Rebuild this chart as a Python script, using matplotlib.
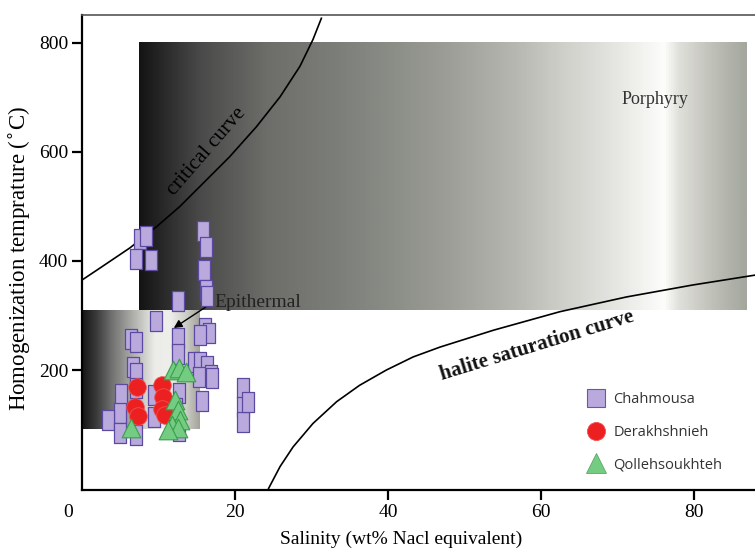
import numpy as np
import matplotlib
matplotlib.use("Agg")
import matplotlib.pyplot as plt
import matplotlib.colors as mcolors
from matplotlib.path import Path
from matplotlib.lines import Line2D

# fluid inclusion data: salinity (wt% NaCl eq.) and homogenization temperature (C)
chah_x = [7.6, 8.4, 7.1, 9.0, 15.8, 16.2, 16.0, 16.2, 16.4, 12.6, 9.7,
          6.4, 7.0, 6.7, 7.0, 7.0, 5.1, 5.0, 3.4, 5.0, 7.0, 9.4, 9.4,
          12.5, 12.5, 12.7, 12.3, 12.7,
          16.1, 16.6, 15.4, 14.6, 15.4, 16.3, 16.9, 15.3, 15.7, 17.0,
          21.0, 21.0, 21.0, 21.7]
chah_y = [440, 446, 404, 402, 455, 425, 383, 346, 336, 327, 290,
          257, 251, 205, 194, 167, 156, 121, 108, 84, 81, 154, 114,
          259, 229, 158, 130, 88,
          277, 268, 264, 215, 215, 207, 191, 187, 143, 185,
          167, 132, 105, 141]

derak_x = [7.2, 6.9, 7.3, 10.5, 10.6, 10.5, 10.8]
derak_y = [169, 133, 116, 172, 150, 128, 118]

qolleh_x = [11.9, 12.7, 13.6, 12.2, 12.5, 12.8, 11.8, 12.5, 11.2, 6.4]
qolleh_y = [200, 204, 196, 145, 127, 108, 99, 94, 90, 94]

# boundary curves
crit_x = [0, 2.35, 6.27, 9.76, 12.8, 16.3, 19.3, 22.8, 25.9, 28.5, 30.2, 31.3]
crit_y = [365, 387, 424, 463, 500, 549, 591, 646, 701, 757, 806, 845]
halite_x = [24.4, 25.9, 27.6, 30.2, 33.3, 36.3, 39.8, 43.3, 46.8, 53.8, 62.5,
            71.2, 79.9, 88.0]
halite_y = [-17, 23, 59, 102, 142, 172, 200, 224, 242, 273, 307, 334, 356, 374]

# deposit-type fields (xmin, xmax, ymin, ymax)
porphyry_box = (7.5, 87.0, 310, 800)
epithermal_box = (0.0, 15.4, 92, 310)

serif = "Liberation Serif"

fig = plt.figure(figsize=(7.55, 5.51), dpi=100)
ax = fig.add_axes([82 / 755, 1 - 490 / 551, 1 - 82 / 755, (490 - 15) / 551])
ax.set_xlim(0, 88)
ax.set_ylim(-20, 851)

por_cmap = mcolors.LinearSegmentedColormap.from_list("por", [
    (0.00, "#141414"), (0.10, "#4a4a4a"), (0.21, "#6d6e6a"), (0.32, "#7b7d78"),
    (0.40, "#888a84"), (0.51, "#9c9e97"), (0.62, "#b5b7b0"), (0.70, "#cfd0ca"),
    (0.78, "#e4e4e0"), (0.845, "#f7f7f5"), (0.865, "#fdfdfb"), (0.89, "#e0e0da"),
    (0.945, "#bfc0b8"), (1.00, "#a4a79d")])
epi_cmap = mcolors.LinearSegmentedColormap.from_list("epi", [
    (0.00, "#151515"), (0.12, "#3a3a3a"), (0.25, "#707070"), (0.45, "#b4b4b0"),
    (0.62, "#ecece8"), (0.75, "#eeeeea"), (0.88, "#cfcfc9"), (1.00, "#a3a39b")])

ramp = np.linspace(0, 1, 512).reshape(1, -1)
for box, cm in [(porphyry_box, por_cmap), (epithermal_box, epi_cmap)]:
    ax.imshow(ramp, cmap=cm, extent=box, aspect="auto", origin="lower",
              interpolation="bilinear", zorder=0)

ax.plot(crit_x, crit_y, color="black", lw=1.2, zorder=2)
ax.plot(halite_x, halite_y, color="black", lw=1.2, zorder=2)

# tall rectangle marker for the Chahmousa samples
rect = Path([(-0.3, -0.5), (0.3, -0.5), (0.3, 0.5), (-0.3, 0.5), (-0.3, -0.5)],
            [Path.MOVETO, Path.LINETO, Path.LINETO, Path.LINETO, Path.CLOSEPOLY])

ax.scatter(chah_x, chah_y, marker=rect, s=210, facecolor="#b9a9dd",
           edgecolor="#5b4a9f", linewidth=0.9, zorder=4)
ax.scatter(derak_x, derak_y, marker="o", s=160, facecolor="#ec2020",
           edgecolor="#f05050", linewidth=0.6, zorder=5)
ax.scatter(qolleh_x, qolleh_y, marker="^", s=180, facecolor="#74cc82",
           edgecolor="#3a9e4c", linewidth=0.8, zorder=6)

ax.text(16.3, 600, "critical curve", rotation=49, ha="center", va="center",
        fontsize=15, family=serif, color="black", zorder=3)
ax.text(59.5, 244, "halite saturation curve", rotation=17, ha="center",
        va="center", fontsize=15, fontweight="bold", family=serif,
        color="#111111", zorder=3)
ax.text(74.9, 696, "Porphyry", ha="center", va="center", fontsize=13,
        family=serif, color="#333333", zorder=3)
ax.annotate("Epithermal", xy=(12.0, 277), xytext=(23.0, 323),
            ha="center", va="center", fontsize=14, family=serif,
            color="#222222", zorder=3,
            arrowprops=dict(arrowstyle="-|>", color="black", lw=1.0,
                            mutation_scale=12, shrinkA=0, shrinkB=0,
                            relpos=(0.0, 0.6)))

ax.set_xticks([20, 40, 60, 80])
ax.set_yticks([200, 400, 600, 800])
ax.tick_params(direction="out", length=7, width=1.6, labelsize=14, pad=3)
for lab in ax.get_xticklabels() + ax.get_yticklabels():
    lab.set_family(serif)
ax.annotate("0", xy=(0, 0), xycoords="axes fraction", xytext=(-10, -16),
            textcoords="offset points", ha="center", va="center",
            fontsize=14, family=serif)

ax.set_xlabel("Salinity (wt% Nacl equivalent)", fontsize=14, family=serif)
ax.set_ylabel("Homogenization temprature ($^{\\circ}$C)", fontsize=16.5,
              family=serif)
ax.xaxis.set_label_coords(0.474, -0.085)
ax.yaxis.set_label_coords(-0.073, 0.488)

ax.spines["right"].set_visible(False)
ax.spines["left"].set_linewidth(1.6)
ax.spines["bottom"].set_linewidth(1.6)
ax.spines["top"].set_linewidth(1.2)
ax.spines["top"].set_color("#555555")

handles = [
    Line2D([], [], ls="none", marker="s", ms=13, mfc="#b9a9dd", mec="#6a5a9a",
           mew=0.8, label="Chahmousa"),
    Line2D([], [], ls="none", marker="o", ms=13, mfc="#ec2020", mec="#f05050",
           mew=0.6, label="Derakhshnieh"),
    Line2D([], [], ls="none", marker="^", ms=14, mfc="#74cc82", mec="#5aa866",
           mew=0.6, label="Qollehsoukhteh"),
]
leg = ax.legend(handles=handles, loc="upper left",
                bbox_to_anchor=(580 / 755, 1 - 385 / 551),
                bbox_transform=fig.transFigure, frameon=False,
                prop={"family": "Open Sans", "size": 10.5},
                handlelength=1.2, handletextpad=0.6, labelspacing=1.2,
                borderpad=0)
for t in leg.get_texts():
    t.set_color("#333333")

fig.savefig("out.png", dpi=100)
